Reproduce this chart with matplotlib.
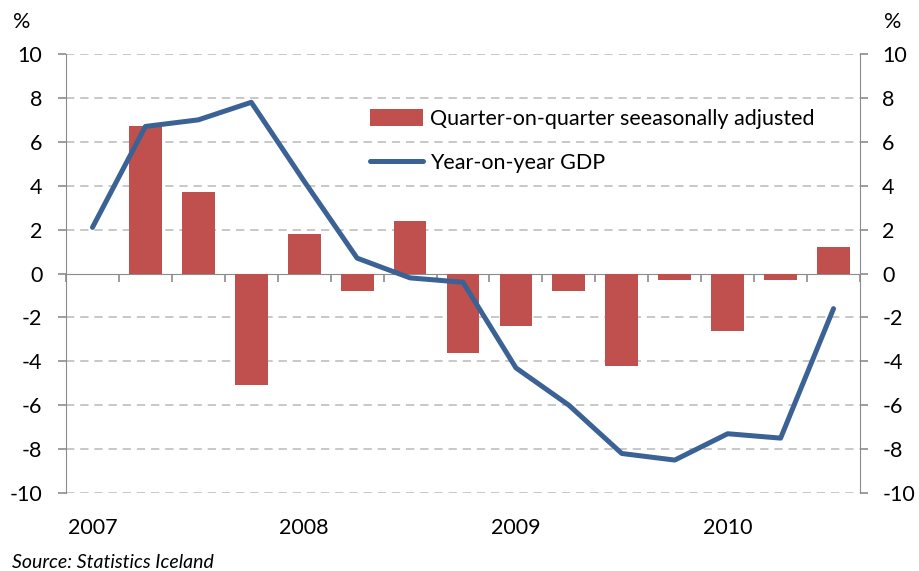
import matplotlib
matplotlib.use("Agg")
import matplotlib.pyplot as plt
import numpy as np
from matplotlib.transforms import blended_transform_factory

plt.rcParams['font.family'] = ['Lato', 'DejaVu Sans']

quarters = ["2007Q1", "2007Q2", "2007Q3", "2007Q4", "2008Q1", "2008Q2", "2008Q3", "2008Q4",
            "2009Q1", "2009Q2", "2009Q3", "2009Q4", "2010Q1", "2010Q2", "2010Q3"]
qoq = [np.nan, 6.7, 3.7, -5.1, 1.8, -0.8, 2.4, -3.6, -2.4, -0.8, -4.2, -0.3, -2.6, -0.3, 1.2]
yoy = [2.1, 6.7, 7.0, 7.8, 4.2, 0.7, -0.2, -0.4, -4.3, -6.0, -8.2, -8.5, -7.3, -7.5, -1.6]
year_labels = ["2007", "2008", "2009", "2010"]
year_pos = [0, 4, 8, 12]
yticks = [-10, -8, -6, -4, -2, 0, 2, 4, 6, 8, 10]

bar_color = "#C0504D"
line_color = "#3A6295"
gray = "#8C8C8C"
fs = 15.5

fig = plt.figure(figsize=(9.19, 5.71), dpi=100)
ax = fig.add_axes([66/919, 1-493/571, (860-66)/919, (493-54)/571])
x = np.arange(len(quarters))

ax.set_xlim(-0.5, len(quarters)-0.5)
ax.set_ylim(-10, 10)
for t in yticks:
    if t != 0:
        ax.axhline(t, color="#BFBFBF", lw=1.2, ls=(0, (5, 3.5)), zorder=0)

bars = ax.bar(x, qoq, width=0.62, color=bar_color, zorder=2, label="Quarter-on-quarter seeasonally adjusted")
ln, = ax.plot(x, yoy, color=line_color, lw=3.6, solid_capstyle='round', solid_joinstyle='round', zorder=3, label="Year-on-year GDP")

ax.spines['top'].set_visible(False)
ax.spines['bottom'].set_position(('data', 0))
ax.spines['bottom'].set_color(gray)
ax.spines['left'].set_color(gray)
ax.spines['bottom'].set_zorder(1)
ax.spines['right'].set_visible(False)
ax.set_xticks(np.arange(-0.5, len(quarters), 1.0))
ax.set_xticklabels([])
ax.tick_params(axis='x', length=6, width=1.2, color=gray, direction='out')
ax.set_yticks(yticks)
ax.set_yticklabels([str(t) for t in yticks])
ax.tick_params(axis='y', length=6, width=1.2, color=gray, labelsize=fs, pad=11, labelcolor="black")

ax2 = ax.twinx()
ax2.set_ylim(-10, 10)
ax2.set_yticks(yticks)
ax2.set_yticklabels([str(t) for t in yticks])
ax2.tick_params(axis='y', length=6, width=1.2, color=gray, labelsize=fs, pad=10)
for s in ['top', 'bottom', 'left']:
    ax2.spines[s].set_visible(False)
ax2.spines['right'].set_color(gray)

trans = blended_transform_factory(ax.transData, fig.transFigure)
for p, lab in zip(year_pos, year_labels):
    ax.text(p, 1-528/571, lab, transform=trans, ha='center', va='center', fontsize=fs)

fig.text(22/919, 1-22/571, "%", ha='center', va='center', fontsize=fs)
fig.text(893/919, 1-22/571, "%", ha='center', va='center', fontsize=fs)
fig.text(12/919, 1-563/571, "Source: Statistics Iceland", ha='left', va='center', fontsize=14, style='italic')

leg = ax.legend(handles=[bars, ln], loc='upper left', bbox_to_anchor=(295/794, 1-(100-54)/439),
                frameon=False, fontsize=fs, handlelength=2.5, handleheight=0.9, handletextpad=0.3,
                labelspacing=1.1, borderaxespad=0)

fig.savefig("out.png", dpi=100)
